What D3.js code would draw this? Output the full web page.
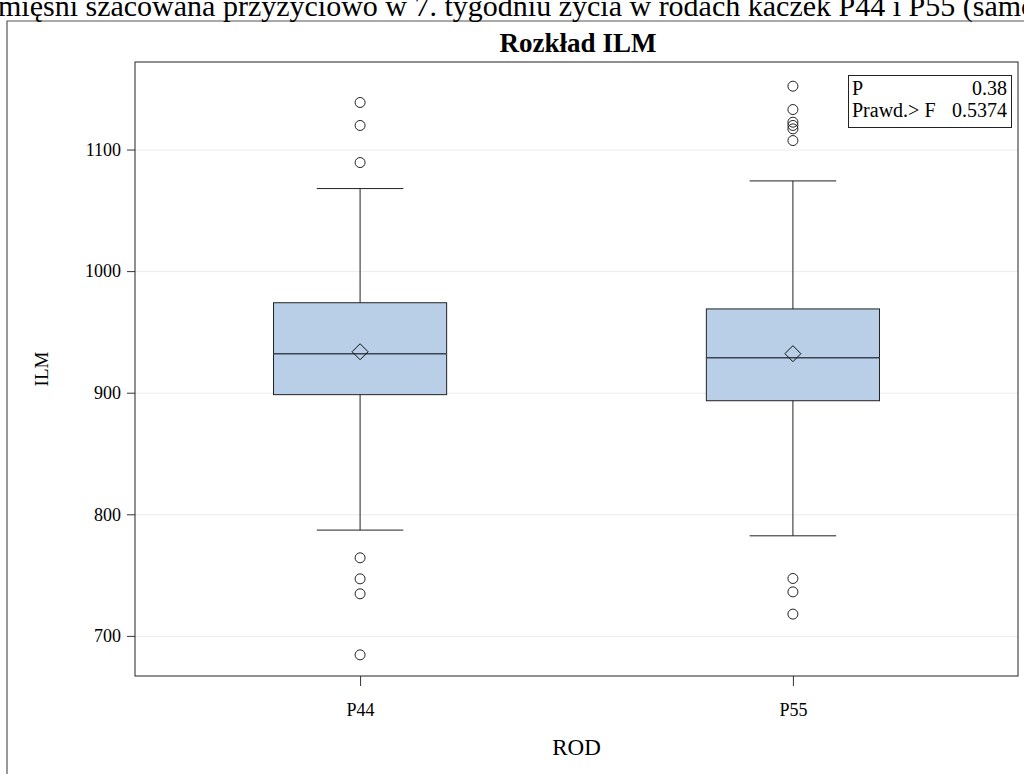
<!DOCTYPE html>
<meta charset="utf-8">
<style>
body { margin: 0; background: #fff; }
svg { display: block; font-family: "Liberation Serif", "Times New Roman", serif; }
.grid line { stroke: #ebebeb; stroke-width: 1px; }
.axis path, .axis line { stroke: #333; }
.axis text { fill: #000; font-size: 18px; font-family: "Liberation Serif", "Times New Roman", serif; }
</style>
<body>
<svg width="1024" height="774" id="chart"></svg>
<script src="https://d3js.org/d3.v7.min.js"></script>
<script>

// data
var categories = ["P44", "P55"];
var q1 = [898.4, 893.4];
var median = [932.0, 928.8];
var q3 = [974.0, 968.9];
var mean = [933.7, 932.1];
var whiskerLow = [787.0, 782.3];
var whiskerHigh = [1067.9, 1074.2];
var outliers = [
    [1138.7, 1119.8, 1089.3, 764.2, 746.9, 734.6, 684.4],
    [1152.1, 1132.9, 1122.5, 1119.8, 1117.0, 1107.4, 747.2, 736.2, 717.9]
];
var yTicks = [700, 800, 900, 1000, 1100];
var statLabels = ["P", "Prawd.> F"];
var statValues = ["0.38", "0.5374"];

var svg = d3.select("svg");

var plot = {left: 135, right: 1018, top: 62, bottom: 676};

var x = d3.scalePoint()
    .domain(categories)
    .range([plot.left, plot.right])
    .padding(0.52);

var y = d3.scaleLinear()
    .domain([667, 1172])
    .range([plot.bottom, plot.top]);

var boxW = x.step() * 0.4;

// outer frame (partly off-page)
svg.append("path")
    .attr("d", "M7,774V21H1030")
    .attr("fill", "none")
    .attr("stroke", "#555")
    .attr("stroke-width", 1.2);

// caption, cut by the page edges as in the source
svg.append("text")
    .attr("x", -2)
    .attr("y", 16)
    .attr("font-size", "30px")
    .text("mięśni szacowana przyżyciowo w 7. tygodniu życia w rodach kaczek P44 i P55 (samce)");

svg.append("text")
    .attr("x", 578)
    .attr("y", 52)
    .attr("text-anchor", "middle")
    .attr("font-weight", "bold")
    .attr("font-size", "27px")
    .text("Rozkład ILM");

// grid
svg.append("g")
    .attr("class", "grid")
    .selectAll("line")
    .data(yTicks)
    .enter().append("line")
    .attr("x1", plot.left)
    .attr("x2", plot.right)
    .attr("y1", function(d) { return y(d) + 0.5; })
    .attr("y2", function(d) { return y(d) + 0.5; });

var boxes = svg.append("g")
    .selectAll("g")
    .data(categories)
    .enter().append("g");

// whiskers
boxes.append("line")
    .attr("x1", function(d) { return x(d); })
    .attr("x2", function(d) { return x(d); })
    .attr("y1", function(d, i) { return y(whiskerHigh[i]); })
    .attr("y2", function(d, i) { return y(whiskerLow[i]); })
    .attr("stroke", "#222");

[whiskerHigh, whiskerLow].forEach(function(arr) {
    boxes.append("line")
        .attr("x1", function(d) { return x(d) - boxW / 4; })
        .attr("x2", function(d) { return x(d) + boxW / 4; })
        .attr("y1", function(d, i) { return y(arr[i]); })
        .attr("y2", function(d, i) { return y(arr[i]); })
        .attr("stroke", "#222");
});

boxes.append("rect")
    .attr("x", function(d) { return x(d) - boxW / 2; })
    .attr("width", boxW)
    .attr("y", function(d, i) { return y(q3[i]); })
    .attr("height", function(d, i) { return y(q1[i]) - y(q3[i]); })
    .attr("fill", "#b9cfe7")
    .attr("stroke", "#222");

boxes.append("line")
    .attr("x1", function(d) { return x(d) - boxW / 2; })
    .attr("x2", function(d) { return x(d) + boxW / 2; })
    .attr("y1", function(d, i) { return y(median[i]); })
    .attr("y2", function(d, i) { return y(median[i]); })
    .attr("stroke", "#3a4552")
    .attr("stroke-width", 1.4);

// mean diamond
boxes.append("path")
    .attr("d", function(d, i) {
        var cx = x(d), cy = y(mean[i]), s = 8;
        return "M" + cx + "," + (cy - s) + "L" + (cx + s) + "," + cy +
            "L" + cx + "," + (cy + s) + "L" + (cx - s) + "," + cy + "Z";
    })
    .attr("fill", "none")
    .attr("stroke", "#111");

boxes.selectAll("circle")
    .data(function(d, i) { return outliers[i].map(function(v) { return {cat: d, v: v}; }); })
    .enter().append("circle")
    .attr("cx", function(d) { return x(d.cat); })
    .attr("cy", function(d) { return y(d.v); })
    .attr("r", 5)
    .attr("fill", "none")
    .attr("stroke", "#222");

// axes
svg.append("g")
    .attr("class", "axis")
    .attr("transform", "translate(" + plot.left + ",0)")
    .call(d3.axisLeft(y).tickValues(yTicks).tickFormat(d3.format("d")).tickSize(8).tickPadding(6))
    .call(function(g) { g.select(".domain").remove(); });

svg.append("g")
    .attr("class", "axis")
    .attr("transform", "translate(0," + plot.bottom + ")")
    .call(d3.axisBottom(x).tickSize(10).tickPadding(17))
    .call(function(g) { g.select(".domain").remove(); });

// plot frame
svg.append("rect")
    .attr("x", plot.left)
    .attr("y", plot.top)
    .attr("width", plot.right - plot.left)
    .attr("height", plot.bottom - plot.top)
    .attr("fill", "none")
    .attr("stroke", "#222");

svg.append("text")
    .attr("transform", "translate(48," + ((plot.top + plot.bottom) / 2) + ") rotate(-90)")
    .attr("text-anchor", "middle")
    .attr("font-size", "19px")
    .text("ILM");

svg.append("text")
    .attr("x", (plot.left + plot.right) / 2)
    .attr("y", 755)
    .attr("text-anchor", "middle")
    .attr("font-size", "23px")
    .text("ROD");

// stat inset
var inset = svg.append("g");
inset.append("rect")
    .attr("x", 848.5)
    .attr("y", 75.5)
    .attr("width", 163)
    .attr("height", 52)
    .attr("fill", "#fff")
    .attr("stroke", "#222");
inset.selectAll(".lab")
    .data(statLabels)
    .enter().append("text")
    .attr("x", 852)
    .attr("y", function(d, i) { return 95 + i * 22; })
    .attr("font-size", "20px")
    .text(function(d) { return d; });
inset.selectAll(".val")
    .data(statValues)
    .enter().append("text")
    .attr("x", 1007)
    .attr("y", function(d, i) { return 95 + i * 22; })
    .attr("text-anchor", "end")
    .attr("font-size", "20px")
    .text(function(d) { return d; });

</script>
</body>
